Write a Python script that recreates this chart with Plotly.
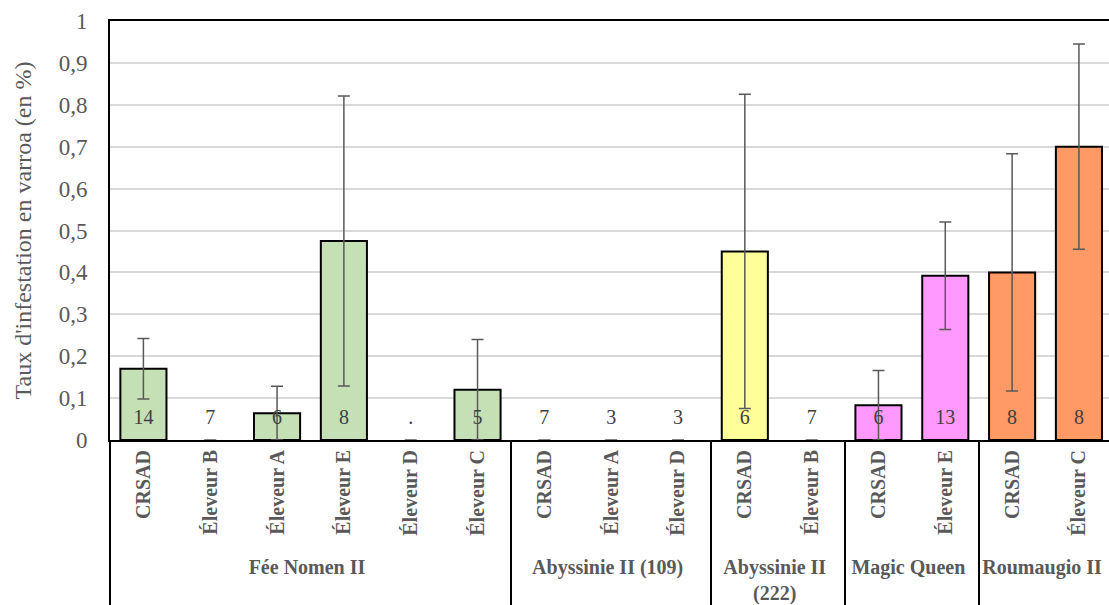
import plotly.graph_objects as go

groups = ["Fée Nomen II"] * 6 + ["Abyssinie II (109)"] * 3 + ["Abyssinie II<br>(222)"] * 2 + ["Magic Queen"] * 2 + ["Roumaugio II"] * 2
origins = ["CRSAD", "Éleveur B", "Éleveur A", "Éleveur E", "Éleveur D", "Éleveur C",
           "CRSAD", "Éleveur A", "Éleveur D",
           "CRSAD", "Éleveur B",
           "CRSAD", "Éleveur E",
           "CRSAD", "Éleveur C"]
values = [0.17, 0, 0.064, 0.475, 0, 0.12,
          0, 0, 0,
          0.45, 0,
          0.083, 0.392,
          0.40, 0.70]
errors = [0.072, None, 0.064, 0.346, None, 0.12,
          None, None, None,
          0.375, None,
          0.083, 0.128,
          0.283, 0.245]
counts = ["14", "7", "6", "8", ".", "5", "7", "3", "3", "6", "7", "6", "13", "8", "8"]
group_colors = {"Fée Nomen II": "#C5E0B4", "Abyssinie II (109)": "#C5E0B4",
                "Abyssinie II<br>(222)": "#FFFF99", "Magic Queen": "#FF99FF",
                "Roumaugio II": "#FF9966"}
y_ticks = [0, 0.1, 0.2, 0.3, 0.4, 0.5, 0.6, 0.7, 0.8, 0.9, 1]
y_ticktext = ["0", "0,1", "0,2", "0,3", "0,4", "0,5", "0,6", "0,7", "0,8", "0,9", "1"]
label_y = [0.05] * len(counts)

FONT = "Liberation Serif, Times New Roman, serif"
colors = [group_colors[g] if v > 0 else "rgba(0,0,0,0)" for g, v in zip(groups, values)]
outline_widths = [2 if v > 0 else 0 for v in values]

fig = go.Figure()
fig.add_trace(go.Bar(
    x=[groups, origins], y=values,
    marker=dict(color=colors, line=dict(color="black", width=outline_widths)),
    error_y=dict(type="data", array=errors, visible=True, color="#595959",
                 thickness=1.5, width=6),
    showlegend=False, hoverinfo="skip",
))
fig.add_trace(go.Scatter(
    x=[groups, origins], y=label_y, mode="text", text=counts,
    textfont=dict(family=FONT, size=20, color="#404040"),
    showlegend=False, hoverinfo="skip", cliponaxis=False,
))

fig.update_layout(
    width=1109, height=605,
    margin=dict(l=110, r=0, t=21, b=165),
    paper_bgcolor="white", plot_bgcolor="white",
    bargap=0.31,
    font=dict(family=FONT, color="#595959", size=20),
)
fig.update_xaxes(
    type="multicategory",
    range=[-0.5, 14.45], autorange=False,
    tickangle=-90,
    tickfont=dict(family=FONT, size=20, color="#595959", weight="bold"),
    showline=True, linecolor="black", linewidth=2, mirror=True,
    showdividers=True, dividercolor="black", dividerwidth=1.5,
    showgrid=False, automargin=False,
)
fig.update_yaxes(
    range=[0, 1], tickvals=y_ticks, ticktext=y_ticktext,
    tickfont=dict(family=FONT, size=23, color="#595959"),
    showline=True, linecolor="black", linewidth=2, mirror=False,
    showgrid=True, gridcolor="#D9D9D9", gridwidth=1.5,
    ticklabelstandoff=16, zeroline=False, automargin=False,
    title=dict(text="Taux d'infestation en varroa (en %)",
               font=dict(family=FONT, size=24, color="#595959"), standoff=20),
)

fig.write_html("out.html", config={"displayModeBar": False},
               post_script="document.body.style.margin='0px';")
